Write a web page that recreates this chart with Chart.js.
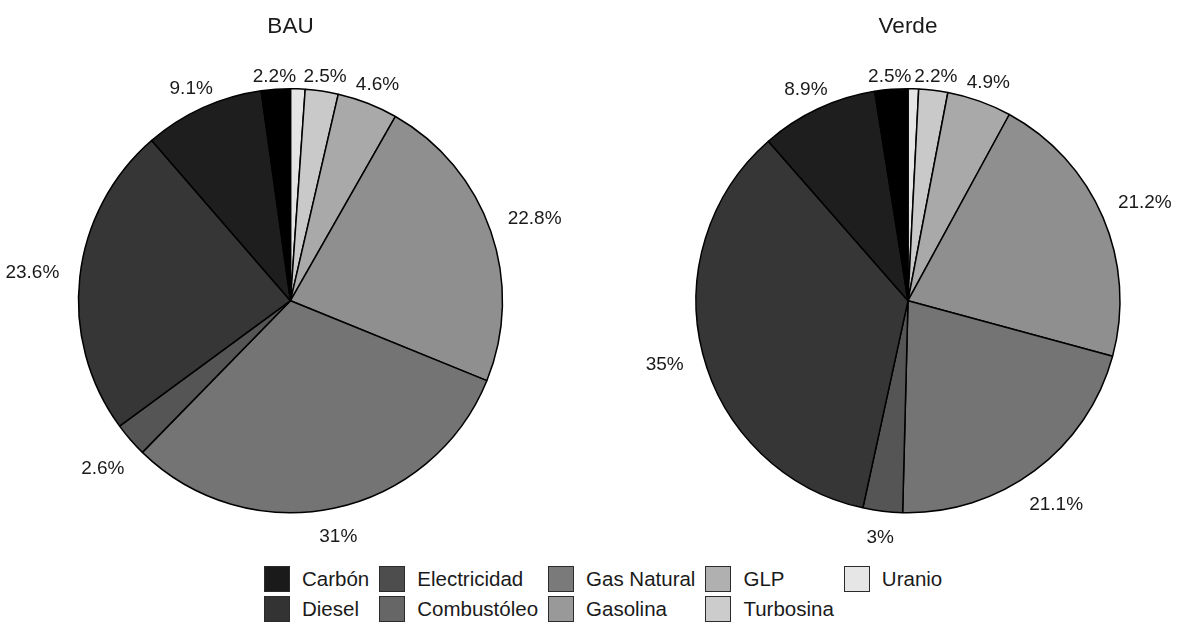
<!DOCTYPE html>
<html>
<head>
<meta charset="utf-8">
<script src="https://cdn.jsdelivr.net/npm/chart.js@4"></script>
<style>
body { margin: 0; background: #fff; width: 1195px; height: 622px; position: relative; overflow: hidden; font-family: "Liberation Sans", Arial, sans-serif; }
#bau { position: absolute; left: 0; top: 0; }
#verde { position: absolute; left: 628px; top: 0; }
#legend { position: absolute; left: 264px; top: 564px; display: grid; grid-template-rows: 30px 30px; grid-auto-flow: column; column-gap: 10px; }
.item { display: flex; align-items: center; font-size: 20.5px; color: #1a1a1a; }
.box { width: 24px; height: 24px; border: 1.5px solid #2b2b2b; margin-right: 12px; }
</style>
</head>
<body>
<canvas id="bau" width="581" height="554"></canvas>
<canvas id="verde" width="560" height="554"></canvas>
<div id="legend"></div>
<script>
// slices go clockwise from 12 o'clock
const categories = ['Uranio', 'Turbosina', 'GLP', 'Gasolina', 'Gas Natural', 'Combustóleo', 'Electricidad', 'Diesel', 'Carbón'];
const bauValues = [1.1, 2.5, 4.6, 22.8, 31, 2.6, 23.6, 9.1, 2.2];
const verdeValues = [0.8, 2.2, 4.9, 21.2, 21.1, 3, 35, 8.9, 2.5];
const sliceColors = ['#e5e5e5', '#c9c9c9', '#a9a9a9', '#8f8f8f', '#747474', '#555555', '#363636', '#1e1e1e', '#000000'];

// legend reads top-down, column by column
const legendOrder = categories.slice().reverse();
const legendColors = ['#1a1a1a', '#333333', '#4d4d4d', '#666666', '#7a7a7a', '#999999', '#b0b0b0', '#cccccc', '#e6e6e6'];

Chart.defaults.font.family = '"Liberation Sans", Arial, sans-serif';
Chart.defaults.color = '#1a1a1a';

const outsideLabels = {
  id: 'outsideLabels',
  afterDatasetsDraw(chart) {
    const c = chart.ctx;
    const values = chart.data.datasets[0].data;
    c.save();
    c.font = '19px "Liberation Sans", Arial, sans-serif';
    c.fillStyle = '#1a1a1a';
    c.textAlign = 'center';
    c.textBaseline = 'middle';
    chart.getDatasetMeta(0).data.forEach((arc, i) => {
      if (values[i] < 2) return;
      const p = arc.getProps(['x', 'y', 'startAngle', 'endAngle', 'outerRadius']);
      const a = (p.startAngle + p.endAngle) / 2;
      const txt = values[i] + '%';
      const w = c.measureText(txt).width;
      const d = p.outerRadius + 18 + Math.abs(Math.cos(a)) * (w / 2 + 3);
      c.fillText(txt, p.x + Math.cos(a) * d, p.y + Math.sin(a) * d + 7 * Math.abs(Math.sin(a)));
    });
    c.restore();
  }
};

function makePie(id, title, values) {
  new Chart(document.getElementById(id), {
    type: 'pie',
    data: {
      labels: categories,
      datasets: [{
        data: values,
        backgroundColor: sliceColors,
        borderColor: '#000',
        borderWidth: 1.5
      }]
    },
    options: {
      responsive: false,
      animation: false,
      events: [],
      radius: 212,
      plugins: {
        legend: { display: false },
        tooltip: { enabled: false },
        title: {
          display: true,
          text: title,
          font: { size: 22.5, weight: 'normal' },
          color: '#1a1a1a',
          padding: { top: 13, bottom: 7.4 }
        }
      }
    },
    plugins: [outsideLabels]
  });
}

makePie('bau', 'BAU', bauValues);
makePie('verde', 'Verde', verdeValues);

const legend = document.getElementById('legend');
legendOrder.forEach((name, i) => {
  const item = document.createElement('div');
  item.className = 'item';
  item.innerHTML = '<span class="box" style="background:' + legendColors[i] + '"></span>' + name;
  legend.appendChild(item);
});
</script>
</body>
</html>
